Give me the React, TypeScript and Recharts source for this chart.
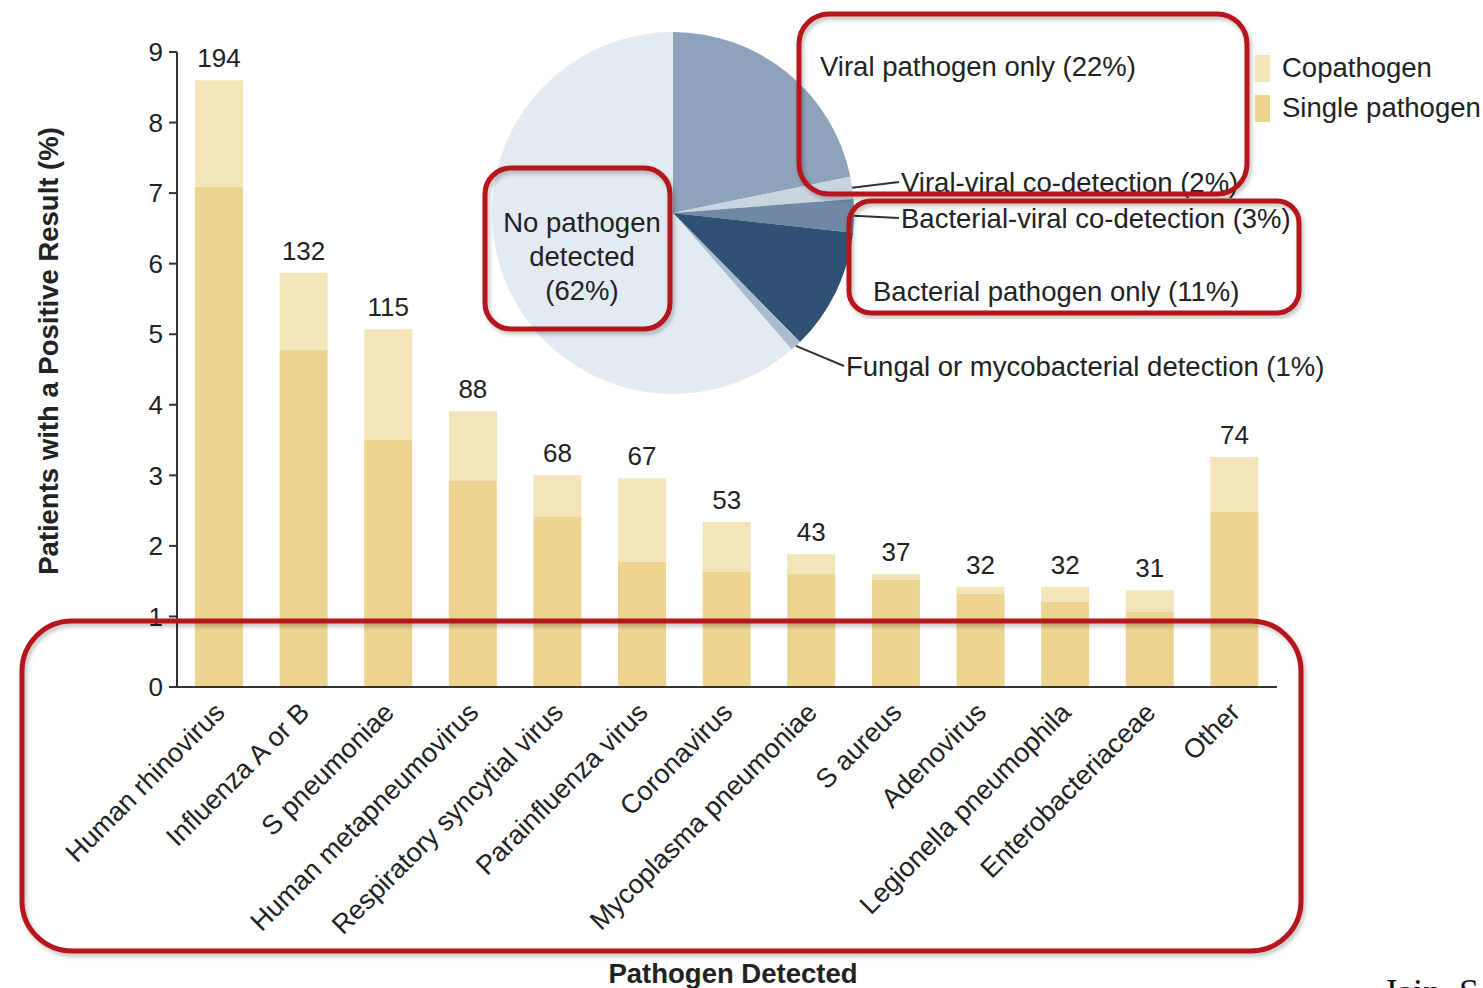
import React from 'react';
import { BarChart, Bar, XAxis, YAxis, LabelList, Legend, PieChart, Pie, Cell, ReferenceLine } from 'recharts';

const categories = [
  'Human rhinovirus', 'Influenza A or B', 'S pneumoniae', 'Human metapneumovirus',
  'Respiratory syncytial virus', 'Parainfluenza virus', 'Coronavirus', 'Mycoplasma pneumoniae',
  'S aureus', 'Adenovirus', 'Legionella pneumophila', 'Enterobacteriaceae', 'Other',
];
const singlePct = [7.09, 4.78, 3.5, 2.93, 2.42, 1.78, 1.63, 1.6, 1.52, 1.32, 1.21, 1.07, 2.48];
const totalPct = [8.6, 5.87, 5.07, 3.91, 3.0, 2.96, 2.34, 1.88, 1.6, 1.42, 1.42, 1.37, 3.26];
const counts = [194, 132, 115, 88, 68, 67, 53, 43, 37, 32, 32, 31, 74];
const yTicks = [0, 1, 2, 3, 4, 5, 6, 7, 8, 9];

const pieNames = [
  'Viral pathogen only (22%)', 'Viral-viral co-detection (2%)', 'Bacterial-viral co-detection (3%)',
  'Bacterial pathogen only (11%)', 'Fungal or mycobacterial detection (1%)', 'No pathogen detected (62%)',
];
const pieValues = [22, 2, 3, 11, 1, 62];
const pieColors = ['#8da3bb', '#c9d4e1', '#6f88a4', '#2f5274', '#a9bccf', '#e4eaf2'];

const SINGLE = '#edd591';
const COPATH = '#f3e5ba';
const FONT = '"Liberation Sans", Arial, Helvetica, sans-serif';
const TEXT = '#222';

const barData = categories.map((c, i) => ({
  name: c,
  single: singlePct[i],
  copath: +(totalPct[i] - singlePct[i]).toFixed(2),
  count: counts[i],
}));
const pieData = pieNames.map((n, i) => ({ name: n, value: pieValues[i] }));

// label layout relative to pie centre
const pieLabelLayout = [
  { dx: 147, dy: -147, line: false, lines: ['Viral pathogen only (22%)'] },
  { dx: 228, dy: -31, line: true, lines: ['Viral-viral co-detection (2%)'] },
  { dx: 228, dy: 5, line: true, lines: ['Bacterial-viral co-detection (3%)'] },
  { dx: 200, dy: 78, line: false, lines: ['Bacterial pathogen only (11%)'] },
  { dx: 173, dy: 153, line: true, lines: ['Fungal or mycobacterial detection (1%)'] },
  { dx: -91, dy: 43, line: false, lines: ['No pathogen', 'detected', '(62%)'], center: true },
];

const RADIAN = Math.PI / 180;

const renderPieLabel = (props: any) => {
  const { cx, cy, midAngle, outerRadius, index } = props;
  const l = pieLabelLayout[index];
  const tx = cx + l.dx;
  const ty = cy + l.dy;
  const ex = cx + outerRadius * Math.cos(-midAngle * RADIAN);
  const ey = cy + outerRadius * Math.sin(-midAngle * RADIAN);
  return (
    <g key={`pl-${index}`}>
      {l.line && <line x1={ex} y1={ey} x2={tx - 2} y2={ty} stroke="#333" strokeWidth={2} />}
      {l.lines.map((s: string, k: number) => (
        <text
          key={k}
          x={tx}
          y={ty + (k - (l.lines.length - 1) / 2) * 34}
          textAnchor={l.center ? 'middle' : 'start'}
          dominantBaseline="central"
          fontFamily={FONT}
          fontSize={27.5}
          fill={TEXT}
        >
          {s}
        </text>
      ))}
    </g>
  );
};

const XTick = (props: any) => {
  const { x, payload } = props;
  return (
    <text
      x={x + 7}
      y={714}
      transform={`rotate(-45, ${x + 7}, 714)`}
      textAnchor="end"
      fontFamily={FONT}
      fontSize={27}
      fill={TEXT}
    >
      {payload.value}
    </text>
  );
};

const legendItems = [
  { label: 'Copathogen', color: COPATH },
  { label: 'Single pathogen', color: SINGLE },
];

const LegendContent = () => (
  <div style={{ fontFamily: FONT, fontSize: 27.5, color: TEXT, whiteSpace: 'nowrap' }}>
    {legendItems.map((it) => (
      <div key={it.label} style={{ display: 'flex', alignItems: 'center', height: 40 }}>
        <div style={{ width: 15, height: 27, background: it.color, marginRight: 12 }} />
        <span>{it.label}</span>
      </div>
    ))}
  </div>
);

const redBoxes = [
  { x: 799, y: 14, w: 448, h: 180, r: 30 },
  { x: 485, y: 168, w: 185, h: 161, r: 26 },
  { x: 849, y: 201, w: 450, h: 112, r: 22 },
  { x: 22, y: 621, w: 1279, h: 330, r: 50 },
];

export default function App() {
  return (
    <div style={{ position: 'absolute', left: 0, top: 0, width: 1483, height: 988, overflow: 'hidden', background: '#fff' }}>
      <div style={{ position: 'absolute', left: 0, top: 0 }}>
        <BarChart
          width={1483}
          height={988}
          data={barData}
          margin={{ top: 52, right: 206, bottom: 51, left: 117 }}
          barSize={48}
        >
          <XAxis
            dataKey="name"
            height={250}
            interval={0}
            tickLine={false}
            axisLine={{ stroke: '#333', strokeWidth: 2 }}
            tick={<XTick />}
          />
          <YAxis
            width={60}
            domain={[0, 9]}
            ticks={yTicks}
            interval={0}
            tickSize={8}
            tickMargin={6}
            axisLine={{ stroke: '#333', strokeWidth: 2 }}
            tickLine={{ stroke: '#333', strokeWidth: 2 }}
            tick={{ fontFamily: FONT, fontSize: 26, fill: TEXT }}
          />
          <Legend
            layout="horizontal"
            align="center"
            verticalAlign="middle"
            wrapperStyle={{ position: 'absolute', left: 1255, top: 48, width: 240 }}
            content={<LegendContent />}
          />
          <Bar dataKey="single" name="Single pathogen" stackId="a" fill={SINGLE} isAnimationActive={false} />
          <Bar dataKey="copath" name="Copathogen" stackId="a" fill={COPATH} isAnimationActive={false}>
            <LabelList dataKey="count" position="top" offset={13} fontFamily={FONT} fontSize={26} fill={TEXT} />
          </Bar>
          <ReferenceLine y={0} stroke="#333" strokeWidth={2} ifOverflow="extendDomain" />
        </BarChart>
      </div>
      <div style={{ position: 'absolute', left: 0, top: 0 }}>
        <PieChart width={1483} height={988} margin={{ top: 0, right: 0, bottom: 0, left: 0 }}>
          <Pie
            data={pieData}
            dataKey="value"
            cx={673}
            cy={213}
            outerRadius={181}
            startAngle={90}
            endAngle={-270}
            stroke="none"
            isAnimationActive={false}
            label={renderPieLabel}
            labelLine={false}
          >
            {pieData.map((d, i) => (
              <Cell key={d.name} fill={pieColors[i]} />
            ))}
          </Pie>
        </PieChart>
      </div>
      <svg width={1483} height={988} style={{ position: 'absolute', left: 0, top: 0, pointerEvents: 'none' }}>
        <defs>
          <filter id="sh" x="-5%" y="-5%" width="110%" height="110%">
            <feDropShadow dx="2" dy="3" stdDeviation="2" floodColor="#000" floodOpacity="0.25" />
          </filter>
        </defs>
        {redBoxes.map((b, i) => (
          <rect key={i} x={b.x} y={b.y} width={b.w} height={b.h} rx={b.r} ry={b.r} fill="none" stroke="#b5121b" strokeWidth={5} filter="url(#sh)" />
        ))}
        <text
          x={48}
          y={351}
          transform="rotate(-90, 48, 351)"
          textAnchor="middle"
          dominantBaseline="central"
          fontFamily={FONT}
          fontWeight="bold"
          fontSize={27.5}
          fill={TEXT}
        >
          Patients with a Positive Result (%)
        </text>
        <text x={733} y={973} textAnchor="middle" dominantBaseline="central" fontFamily={FONT} fontWeight="bold" fontSize={27.5} fill={TEXT}>
          Pathogen Detected
        </text>
        <text x={1383} y={1004} fontFamily='"Liberation Serif", "Times New Roman", serif' fontSize={36} fill="#111">
          Jain, S
        </text>
      </svg>
    </div>
  );
}
